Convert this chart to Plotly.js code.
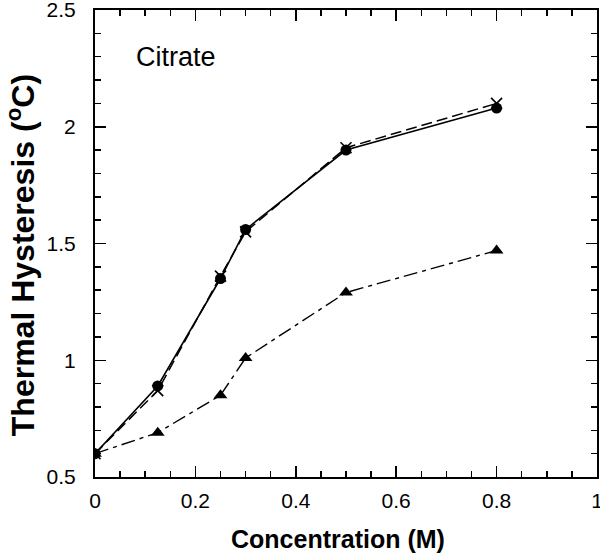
<!DOCTYPE html>
<html><head><meta charset="utf-8">
<script src="https://cdn.plot.ly/plotly-3.0.1.min.js"></script>
<style>html,body{margin:0;padding:0;background:#fff}</style>
</head><body>
<div id="chart" style="width:600px;height:555px"></div>
<script>
const concentration = [0, 0.125, 0.25, 0.3, 0.5, 0.8];
const circleSeries = [0.60, 0.89, 1.35, 1.56, 1.90, 2.08];
const crossSeries = [0.60, 0.87, 1.36, 1.55, 1.91, 2.10];
const triangleSeries = [0.60, 0.69, 0.85, 1.01, 1.29, 1.47];
const xTickVals = [0, 0.2, 0.4, 0.6, 0.8, 1];
const xTickText = ['0', '0.2', '0.4', '0.6', '0.8', '1'];
const yTickVals = [0.5, 1, 1.5, 2, 2.5];
const yTickText = ['0.5', '1', '1.5', '2', '2.5'];

const FONT = 'Liberation Sans, Arial, Helvetica, sans-serif';

const traces = [
  {x: concentration, y: crossSeries, mode: 'lines+markers',
   line: {color: '#000', width: 1.5, dash: '11px,5px'},
   marker: {symbol: 'x-thin', size: 11, line: {color: '#000', width: 1.6}}},
  {x: concentration, y: circleSeries, mode: 'lines+markers',
   line: {color: '#000', width: 1.6},
   marker: {symbol: 'circle', size: 11, color: '#000'}},
  {x: concentration, y: triangleSeries, mode: 'lines+markers',
   line: {color: '#000', width: 1.4, dash: '14px,5px,4px,5px'},
   marker: {symbol: 'triangle-up', size: 12, color: '#000'}}
];

const axisCommon = {
  showgrid: false, zeroline: false, showline: true, linecolor: '#000', linewidth: 2,
  mirror: 'ticks', ticks: 'inside', tickcolor: '#000', tickwidth: 1.5, ticklen: 11,
  tickfont: {family: FONT, size: 21, color: '#000'},
  tickmode: 'array', ticklabeloverflow: 'allow'
};

const layout = {
  width: 600, height: 555,
  margin: {l: 95, r: 3, t: 10, b: 78},
  paper_bgcolor: '#fff', plot_bgcolor: '#fff',
  showlegend: false,
  xaxis: Object.assign({}, axisCommon, {
    range: [0, 1], tickvals: xTickVals, ticktext: xTickText,
    minor: {dtick: 0.05, ticks: 'inside', ticklen: 6, tickcolor: '#000', tickwidth: 1.5},
    ticklabelstandoff: 4
  }),
  yaxis: Object.assign({}, axisCommon, {
    range: [0.5, 2.5], tickvals: yTickVals, ticktext: yTickText,
    minor: {dtick: 0.1, ticks: 'inside', ticklen: 6, tickcolor: '#000', tickwidth: 1.5},
    ticklabelstandoff: 13
  }),
  annotations: [
    {text: 'Citrate', xref: 'paper', yref: 'paper', x: 0.077, y: 0.9,
     xanchor: 'left', yanchor: 'middle', showarrow: false,
     font: {family: FONT, size: 27, color: '#000'}},
    {text: '<b>Concentration (M)</b>', xref: 'paper', yref: 'paper', x: 0.485, y: 0,
     yshift: -62, xanchor: 'center', yanchor: 'middle', showarrow: false,
     font: {family: FONT, size: 25, color: '#000'}},
    {text: '<b>Thermal Hysteresis (<sup>o</sup>C)</b>', xref: 'paper', yref: 'paper',
     x: 0, xshift: -74, y: 0.475, textangle: -90,
     xanchor: 'center', yanchor: 'middle', showarrow: false,
     font: {family: FONT, size: 32, color: '#000'}}
  ]
};

Plotly.newPlot('chart', traces, layout, {displayModeBar: false, staticPlot: true});
</script>
</body></html>
